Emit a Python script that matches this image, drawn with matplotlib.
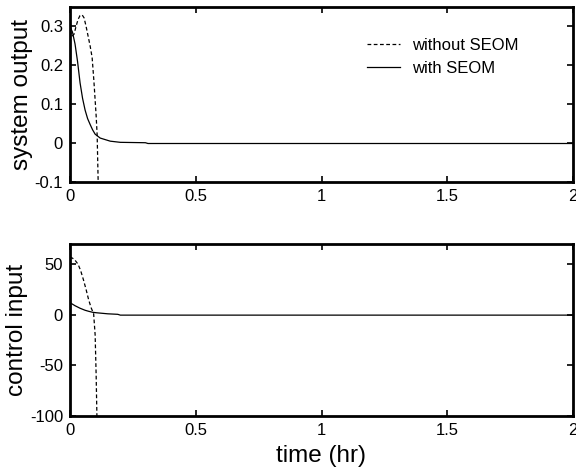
import matplotlib.pyplot as plt
from matplotlib.transforms import IdentityTransform

plt.rcParams['font.family'] = ['Liberation Sans', 'DejaVu Sans']
plt.rcParams['axes.unicode_minus'] = False

# ---- data ----
t_out_wo = [0, 0.008, 0.016, 0.024, 0.032, 0.04, 0.048, 0.056, 0.064, 0.072, 0.08, 0.088, 0.095, 0.1, 0.104, 0.108, 0.11, 0.112]
y_out_wo = [0.29, 0.275, 0.28, 0.30, 0.318, 0.328, 0.33, 0.322, 0.30, 0.275, 0.25, 0.22, 0.16, 0.11, 0.07, 0.02, -0.04, -0.1]

t_out_w = [0, 0.01, 0.02, 0.03, 0.04, 0.05, 0.06, 0.07, 0.08, 0.09, 0.1, 0.12, 0.16, 0.2, 0.3, 0.31, 2.0]
y_out_w = [0.30, 0.285, 0.255, 0.21, 0.155, 0.115, 0.085, 0.063, 0.048, 0.034, 0.023, 0.013, 0.005, 0.002, 0.001, -0.001, -0.001]

t_in_wo = [0, 0.01, 0.02, 0.032, 0.042, 0.053, 0.064, 0.074, 0.084, 0.094, 0.1, 0.104, 0.107]
y_in_wo = [57, 56, 54, 50, 44, 35, 25, 15, 7, 1, -20, -60, -100]

t_in_w = [0, 0.01, 0.02, 0.04, 0.06, 0.074, 0.09, 0.107, 0.15, 0.19, 0.2, 2.0]
y_in_w = [12, 10.5, 9, 6.5, 4.5, 3.5, 2.5, 2, 1, 0.5, -0.3, -0.3]

labels = ['without SEOM', 'with SEOM']
x_ticks = [0, 0.5, 1, 1.5, 2]
x_ticklabels = ['0', '0.5', '1', '1.5', '2']

fig = plt.figure(figsize=(5.76, 4.69), dpi=100)
ax1 = fig.add_axes([70 / 576, 1 - 182 / 469, 503 / 576, 175 / 469])
ax2 = fig.add_axes([70 / 576, 1 - 416 / 469, 503 / 576, 172 / 469])

ax1.plot(t_out_wo, y_out_wo, 'k--', lw=0.9, dashes=(3, 2), label=labels[0])
ax1.plot(t_out_w, y_out_w, 'k-', lw=0.9, label=labels[1])
ax1.set_ylim(-0.1, 0.35)
ax1.set_yticks([-0.1, 0, 0.1, 0.2, 0.3])
ax1.set_yticklabels(['-0.1', '0', '0.1', '0.2', '0.3'])
ax1.set_ylabel('system output', fontsize=17.5, labelpad=1)
ax1.legend(loc='upper left', bbox_to_anchor=(367, 469 - 38), bbox_transform=IdentityTransform(),
           frameon=False, fontsize=12, handlelength=2.0, handletextpad=0.7,
           labelspacing=0.45, borderpad=0, borderaxespad=0)

ax2.plot(t_in_wo, y_in_wo, 'k--', lw=0.9, dashes=(3, 2))
ax2.plot(t_in_w, y_in_w, 'k-', lw=0.9)
ax2.set_ylim(-100, 70)
ax2.set_yticks([-100, -50, 0, 50])
ax2.set_ylabel('control input', fontsize=17.5, labelpad=1)
ax2.set_xlabel('time (hr)', fontsize=17.5, labelpad=5)

for ax in (ax1, ax2):
    ax.set_xlim(0, 2)
    ax.set_xticks(x_ticks)
    ax.set_xticklabels(x_ticklabels)
    ax.tick_params(direction='in', top=True, right=True, labelsize=12, length=4, width=1.2, pad=5)
    for s in ax.spines.values():
        s.set_linewidth(2)

fig.savefig('out.png', dpi=100)
